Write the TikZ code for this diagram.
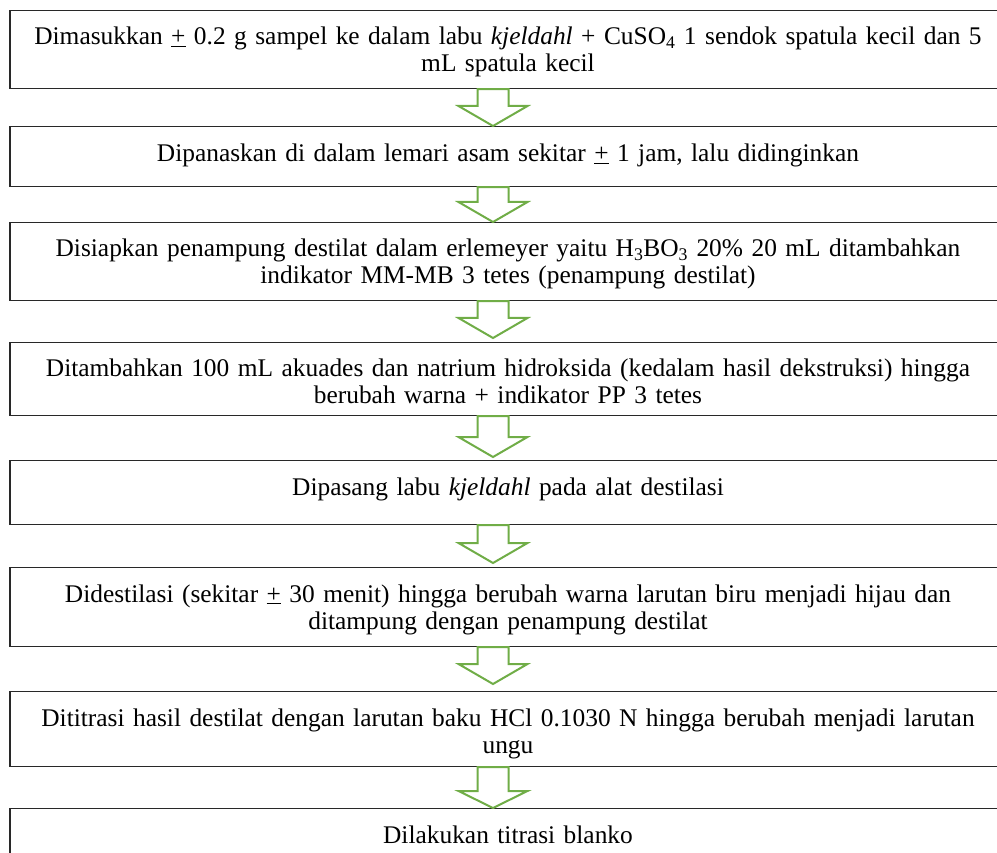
\documentclass[tikz,border=0pt]{standalone}
\usepackage{fontspec}
\setmainfont{Liberation Serif}
\usetikzlibrary{calc}
\definecolor{arrgreen}{RGB}{112,173,71}
\definecolor{boxline}{RGB}{40,40,40}
\tikzset{
  stepbox/.style={draw=boxline, line width=1.2pt, fill=white, minimum width=996pt, inner sep=0pt, anchor=north},
  steptext/.style={text width=990pt, align=center, anchor=base, inner sep=0pt, font=\fontsize{25.4}{27}\selectfont},
  garrow/.style={draw=arrgreen, line width=2pt, fill=white, line join=miter}
}
\newcommand{\flowarrow}[4]{%
  \draw[garrow] let \p1=(#1.south), \p2=(#2.north) in
    (477.5pt,\y1) -- (508.5pt,\y1) -- (508.5pt,\y2+#3pt+#4pt) -- (527.5pt,\y2+#3pt+#4pt)
    -- (493pt,\y2+#3pt) -- (458.5pt,\y2+#3pt+#4pt) -- (477.5pt,\y2+#3pt+#4pt) -- cycle;}
\begin{document}
\begin{tikzpicture}[x=1pt,y=-1pt]
\useasboundingbox (0,0) rectangle (997,853);
\clip (0,0) rectangle (997,853);
% boxes
\node[stepbox, minimum height=78pt] (b1) at (508,10) {};
\node[stepbox, minimum height=60pt] (b2) at (508,126) {};
\node[stepbox, minimum height=78pt] (b3) at (508,222) {};
\node[stepbox, minimum height=73pt] (b4) at (508,342) {};
\node[stepbox, minimum height=64pt] (b5) at (508,460) {};
\node[stepbox, minimum height=79pt] (b6) at (508,567) {};
\node[stepbox, minimum height=75pt] (b7) at (508,691) {};
\node[stepbox, minimum height=90pt] (b8) at (508,808) {};
% texts
\node[steptext] (t1) at ([yshift=-35pt]b1.north) {Dimasukkan \underline{+} 0.2 g sampel ke dalam labu \textit{kjeldahl} + CuSO\textsubscript{4} 1 sendok spatula kecil dan 5\\ mL spatula kecil};
\node[steptext] (t2) at ([yshift=-36pt]b2.north) {Dipanaskan di dalam lemari asam sekitar \underline{+} 1 jam, lalu didinginkan};
\node[steptext] (t3) at ([yshift=-35pt]b3.north) {Disiapkan penampung destilat dalam erlemeyer yaitu H\textsubscript{3}BO\textsubscript{3} 20\% 20 mL ditambahkan\\ indikator MM-MB 3 tetes (penampung destilat)};
\node[steptext] (t4) at ([yshift=-35pt]b4.north) {Ditambahkan 100 mL akuades dan natrium hidroksida (kedalam hasil dekstruksi) hingga\\ berubah warna + indikator PP 3 tetes};
\node[steptext] (t5) at ([yshift=-35pt]b5.north) {Dipasang labu \textit{kjeldahl} pada alat destilasi};
\node[steptext] (t6) at ([yshift=-35pt]b6.north) {Didestilasi (sekitar \underline{+} 30 menit) hingga berubah warna larutan biru menjadi hijau dan\\ ditampung dengan penampung destilat};
\node[steptext] (t7) at ([yshift=-35pt]b7.north) {Dititrasi hasil destilat dengan larutan baku HCl 0.1030 N hingga berubah menjadi larutan\\ ungu};
\node[steptext] (t8) at ([yshift=-35pt]b8.north) {Dilakukan titrasi blanko};
% arrows
\flowarrow{b1}{b2}{0}{20}
\flowarrow{b2}{b3}{0}{20}
\flowarrow{b3}{b4}{4}{20}
\flowarrow{b4}{b5}{3}{20}
\flowarrow{b5}{b6}{4}{20}
\flowarrow{b6}{b7}{7}{20}
\flowarrow{b7}{b8}{0}{17}
\end{tikzpicture}
\end{document}
